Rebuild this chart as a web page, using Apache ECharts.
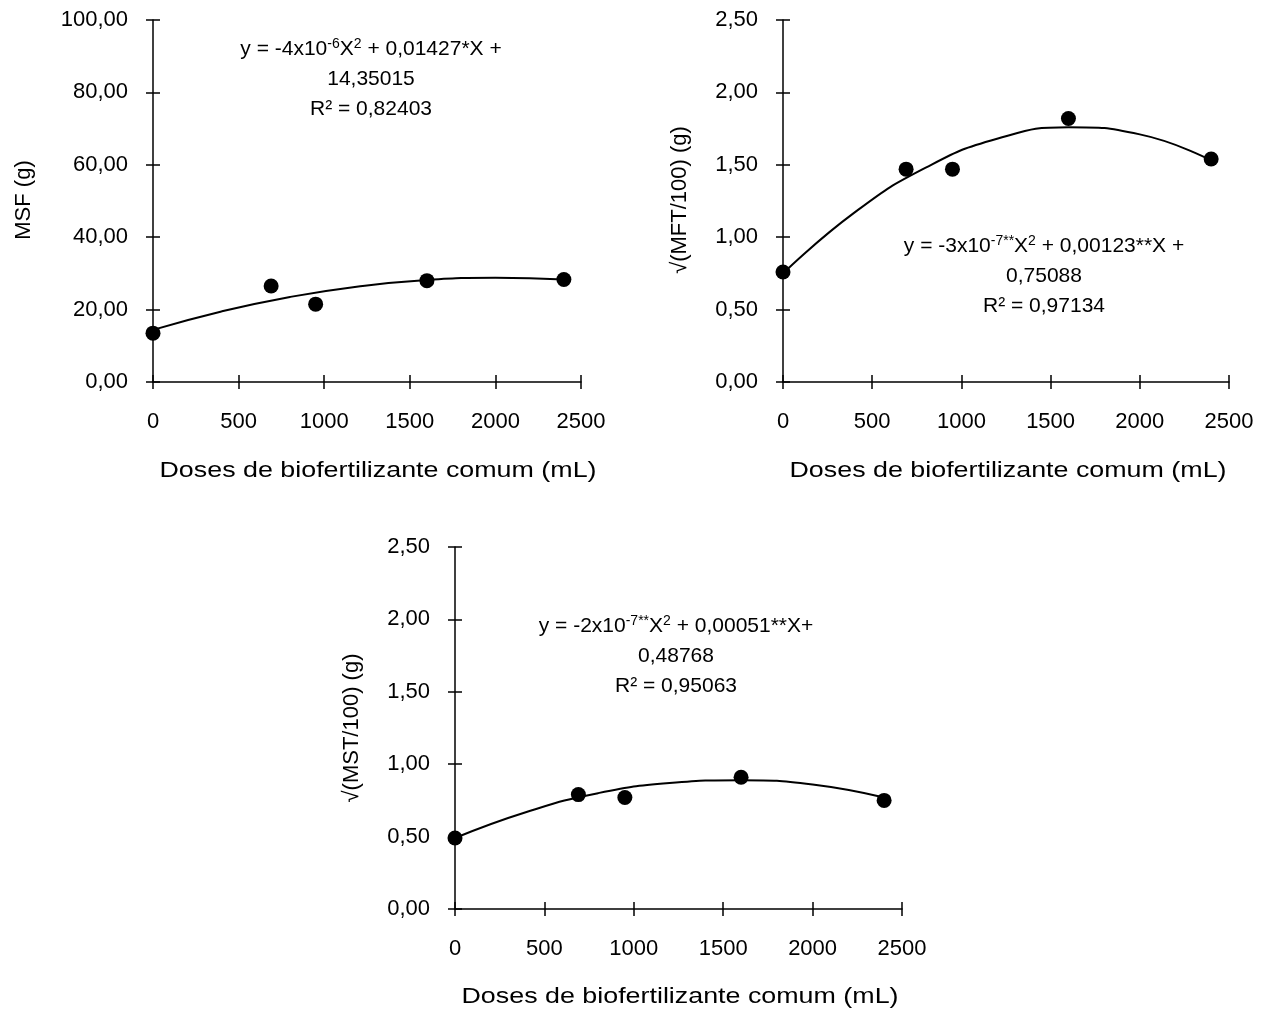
<!DOCTYPE html>
<html>
<head>
<meta charset="utf-8">
<script src="https://cdn.jsdelivr.net/npm/echarts@6/dist/echarts.min.js"></script>
<style>
  html, body { margin: 0; padding: 0; background: #fff; }
  #main { width: 1272px; height: 1009px; }
</style>
</head>
<body>
<div id="main"></div>
<script>
// dados
const doses = [0, 690, 950, 1600, 2400];
const msf = [13.5, 26.5, 21.5, 28.0, 28.3];
const mft = [0.76, 1.47, 1.47, 1.82, 1.54];
const mst = [0.49, 0.79, 0.77, 0.91, 0.75];

// curvas de tendência
const curveX = [0, 400, 800, 1200, 1600, 2000, 2400];
const curveMsf = [14.4, 19.5, 23.5, 26.4, 28.2, 28.8, 28.3];
const curveMft = [0.75, 1.17, 1.48, 1.68, 1.76, 1.71, 1.53];
const curveMst = [0.49, 0.67, 0.80, 0.87, 0.89, 0.86, 0.77];

const xTicks = [0, 500, 1000, 1500, 2000, 2500];
const yTicksMsf = [0, 20, 40, 60, 80, 100];
const yTicksSqrt = [0, 0.5, 1, 1.5, 2, 2.5];

const xName = 'Doses de biofertilizante comum (mL)';
const FONT = "'Liberation Sans', Arial, sans-serif";

const chart = echarts.init(document.getElementById('main'));

function pairs(xs, ys) {
    return xs.map((x, i) => [x, ys[i]]);
}

// eixo x principal (ticks para fora)
function xAxis(grid) {
    return {
        type: 'value', gridIndex: grid, position: 'bottom',
        min: xTicks[0], max: xTicks[xTicks.length - 1], interval: xTicks[1] - xTicks[0],
        axisLine: { show: true, onZero: false, lineStyle: { color: '#000', width: 1.5 } },
        axisTick: { show: true, length: 7, lineStyle: { color: '#000', width: 1.5 } },
        axisLabel: { color: '#000', fontSize: 22, fontFamily: FONT, margin: 29, formatter: v => String(v) },
        splitLine: { show: false }
    };
}

// eixo y principal
function yAxis(grid, ticks) {
    return {
        type: 'value', gridIndex: grid, position: 'left',
        min: ticks[0], max: ticks[ticks.length - 1], interval: ticks[1] - ticks[0],
        axisLine: { show: true, onZero: false, lineStyle: { color: '#000', width: 1.5 } },
        axisTick: { show: true, length: 7, lineStyle: { color: '#000', width: 1.5 } },
        axisLabel: {
            color: '#000', fontSize: 22, fontFamily: FONT, margin: 25,
            formatter: v => v.toFixed(2).replace('.', ',')
        },
        splitLine: { show: false }
    };
}

// eixos "fantasma" só para os ticks para dentro (cruz)
function innerX(grid) {
    return {
        type: 'value', gridIndex: grid, position: 'bottom',
        min: xTicks[0], max: xTicks[xTicks.length - 1], interval: xTicks[1] - xTicks[0],
        axisLine: { show: false, onZero: false },
        axisTick: { show: true, inside: true, length: 7, lineStyle: { color: '#000', width: 1.5 } },
        axisLabel: { show: false }, splitLine: { show: false }
    };
}

function innerY(grid, ticks) {
    return {
        type: 'value', gridIndex: grid, position: 'left',
        min: ticks[0], max: ticks[ticks.length - 1], interval: ticks[1] - ticks[0],
        axisLine: { show: false, onZero: false },
        axisTick: { show: true, inside: true, length: 7, lineStyle: { color: '#000', width: 1.5 } },
        axisLabel: { show: false }, splitLine: { show: false }
    };
}

function pointSeries(idx, ys) {
    return {
        type: 'scatter', xAxisIndex: idx, yAxisIndex: idx,
        data: pairs(doses, ys), symbolSize: 15,
        itemStyle: { color: '#000', opacity: 1 }, z: 3
    };
}

function curveSeries(idx, ys) {
    return {
        type: 'line', xAxisIndex: idx, yAxisIndex: idx,
        data: pairs(curveX, ys), smooth: true, showSymbol: false,
        lineStyle: { color: '#000', width: 2 }, z: 2
    };
}

const rich = {
    n: { fontSize: 21, fontFamily: FONT, color: '#000', lineHeight: 30 },
    s: { fontSize: 14, fontFamily: FONT, color: '#000', lineHeight: 30, verticalAlign: 'top', padding: [3, 0, 0, 0] }
};

function eqText(x, y, txt) {
    return {
        type: 'text', x: x, y: y,
        style: { text: txt, rich: rich, align: 'center', verticalAlign: 'top', fill: '#000' }
    };
}

// títulos dos eixos (x esticado na horizontal como no original)
function xTitle(x, y) {
    return {
        type: 'text', x: x, y: y, scaleX: 1.22,
        style: { text: xName, font: '22px ' + FONT, align: 'center', verticalAlign: 'middle', fill: '#000' }
    };
}

function yTitle(x, y, txt) {
    return {
        type: 'text', x: x, y: y, rotation: Math.PI / 2,
        style: { text: txt, font: '22px ' + FONT, align: 'center', verticalAlign: 'middle', fill: '#000' }
    };
}

const option = {
    backgroundColor: '#fff',
    animation: false,
    grid: [
        { left: 153, top: 20, width: 428, height: 362 },
        { left: 783, top: 20, width: 446, height: 362 },
        { left: 455, top: 547, width: 447, height: 362 }
    ],
    xAxis: [xAxis(0), xAxis(1), xAxis(2), innerX(0), innerX(1), innerX(2)],
    yAxis: [
        yAxis(0, yTicksMsf), yAxis(1, yTicksSqrt), yAxis(2, yTicksSqrt),
        innerY(0, yTicksMsf), innerY(1, yTicksSqrt), innerY(2, yTicksSqrt)
    ],
    series: [
        curveSeries(0, curveMsf), pointSeries(0, msf),
        curveSeries(1, curveMft), pointSeries(1, mft),
        curveSeries(2, curveMst), pointSeries(2, mst)
    ],
    graphic: [
        eqText(371, 34, '{n|y = -4x10}{s|-6}{n|X}{s|2}{n| + 0,01427*X +}\n{n|14,35015}\n{n|R² = 0,82403}'),
        eqText(1044, 231, '{n|y = -3x10}{s|-7**}{n|X}{s|2}{n| + 0,00123**X +}\n{n|0,75088}\n{n|R² = 0,97134}'),
        eqText(676, 611, '{n|y = -2x10}{s|-7**}{n|X}{s|2}{n| + 0,00051**X+}\n{n|0,48768}\n{n|R² = 0,95063}'),
        xTitle(378, 471), xTitle(1008, 471), xTitle(680, 997),
        yTitle(24, 200, 'MSF (g)'),
        yTitle(680, 200, '√(MFT/100) (g)'),
        yTitle(352, 728, '√(MST/100) (g)')
    ]
};

chart.setOption(option);
</script>
</body>
</html>
